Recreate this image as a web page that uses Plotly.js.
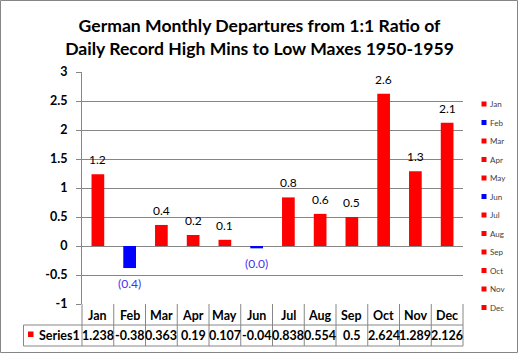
<!DOCTYPE html>
<html>
<head>
<meta charset="utf-8">
<script src="https://cdn.plot.ly/plotly-3.0.1.min.js"></script>
<style>html,body{margin:0;padding:0;background:#fff;}#chart{width:519px;height:354px;}</style>
</head>
<body>
<div id="chart"></div>
<script>
// ---- data ----
var months = ['Jan','Feb','Mar','Apr','May','Jun','Jul','Aug','Sep','Oct','Nov','Dec'];
var values = [1.238, -0.38, 0.363, 0.19, 0.107, -0.04, 0.838, 0.554, 0.5, 2.624, 1.289, 2.126];
var seriesName = 'Series1';
var yTickVals = [-1, -0.5, 0, 0.5, 1, 1.5, 2, 2.5, 3];

// ---- style ----
var POS = '#ff0000', NEG = '#0000ff', NEGLABEL = '#4433ee', GRID = '#868686';
var FONT = 'Lato, "Open Sans", sans-serif';
var barColors = values.map(function(v){ return v < 0 ? NEG : POS; });

// geometry (image pixels)
var W = 519, H = 354, L = 82, R = 463, T = 72, B = 304;
var PW = R - L, PH = B - T;
function px(X){ return (X - L) / PW; }
function py(Y){ return (B - Y) / PH; }

function fmtLabel(v){
  var s = Math.abs(v).toFixed(1);
  return v < 0 ? '(' + s + ')' : s;
}

var trace = {
  type: 'bar', x: months, y: values, width: 0.4,
  marker: {color: barColors}, showlegend: false, hoverinfo: 'none'
};

var shapes = [], annotations = [];
// outer border
shapes.push({type:'rect', xref:'paper', yref:'paper', x0:px(0.5), x1:px(517.5), y0:py(0.5), y1:py(352.5), line:{color:GRID, width:1}});

// data labels
values.forEach(function(v, i){
  annotations.push({
    x: months[i], y: v, xref:'x', yref:'y', text: fmtLabel(v), showarrow:false,
    yanchor: v < 0 ? 'top' : 'bottom', yshift: v < 0 ? -6 : 5,
    font:{family:FONT, size:12, color: v < 0 ? NEGLABEL : '#000'}
  });
});

// data table
var rowTop = 304, rowMid = 325, rowBot = 346, tableLeft = 23.5;
for (var i = 0; i <= months.length; i++) {
  var xp = i / months.length;
  shapes.push({type:'line', xref:'paper', yref:'paper', x0:xp, x1:xp, y0:py(rowTop), y1:py(rowBot), line:{color:GRID, width:1}});
}
shapes.push({type:'line', xref:'paper', yref:'paper', x0:px(tableLeft), x1:px(tableLeft), y0:py(rowMid), y1:py(rowBot), line:{color:GRID, width:1}});
shapes.push({type:'line', xref:'paper', yref:'paper', x0:px(tableLeft), x1:1, y0:py(rowMid), y1:py(rowMid), line:{color:GRID, width:1}});
shapes.push({type:'line', xref:'paper', yref:'paper', x0:px(tableLeft), x1:1, y0:py(rowBot), y1:py(rowBot), line:{color:GRID, width:1}});
months.forEach(function(m, i){
  annotations.push({x:m, xref:'x', y:py(315.5), yref:'paper', yanchor:'middle', text:m, showarrow:false,
    font:{family:FONT, size:12.5, weight:700, color:'#000'}});
  annotations.push({x:m, xref:'x', y:py(335.5), yref:'paper', yanchor:'middle', text:String(values[i]), showarrow:false,
    font:{family:FONT, size:12.5, weight:700, color:'#000'}});
});
// series key in table
shapes.push({type:'rect', xref:'paper', yref:'paper', x0:px(28), x1:px(33.5), y0:py(331.5), y1:py(337), fillcolor:POS, line:{width:0}});
annotations.push({x:px(37), xref:'paper', xanchor:'left', y:py(335.5), yref:'paper', yanchor:'middle', text:seriesName, showarrow:false,
  font:{family:FONT, size:12.5, weight:700, color:'#000'}});

// legend (one entry per month)
months.forEach(function(m, i){
  var cy = 104 + i * 18.5;
  shapes.push({type:'rect', xref:'paper', yref:'paper', x0:px(481.5), x1:px(486.5), y0:py(cy - 2.5), y1:py(cy + 2.5), fillcolor:barColors[i], line:{width:0}});
  annotations.push({x:px(487.5), xref:'paper', xanchor:'left', y:py(cy), yref:'paper', yanchor:'middle', text:m, showarrow:false,
    font:{family:FONT, size:8, color:'#404040'}});
});

var layout = {
  width: W, height: H,
  margin: {l: L, r: W - R, t: T, b: H - B, pad: 0},
  paper_bgcolor: '#fff', plot_bgcolor: '#fff',
  title: {
    text: 'German Monthly Departures from 1:1 Ratio of<br>Daily Record High Mins to Low Maxes 1950-1959',
    font: {family: FONT, size: 17.6, weight: 700, color: '#000'},
    xref: 'container', x: 0.5, xanchor: 'center',
    yref: 'container', y: 1 - 32 / H, yanchor: 'middle'
  },
  xaxis: {type:'category', range:[-0.5, 11.5], showticklabels:false, showgrid:false, zeroline:false, showline:false, ticks:''},
  yaxis: {
    range: [-1, 3], tickvals: yTickVals, ticktext: yTickVals.map(String),
    showgrid: true, gridcolor: GRID, gridwidth: 1, zeroline: false,
    showline: true, linecolor: GRID, linewidth: 1,
    ticks: 'outside', ticklen: 5, tickcolor: GRID, ticklabelstandoff: 6,
    tickfont: {family: FONT, size: 12.5, weight: 700, color: '#000'}
  },
  shapes: shapes, annotations: annotations,
  showlegend: false
};

Plotly.newPlot('chart', [trace], layout, {staticPlot: true});
</script>
</body>
</html>
